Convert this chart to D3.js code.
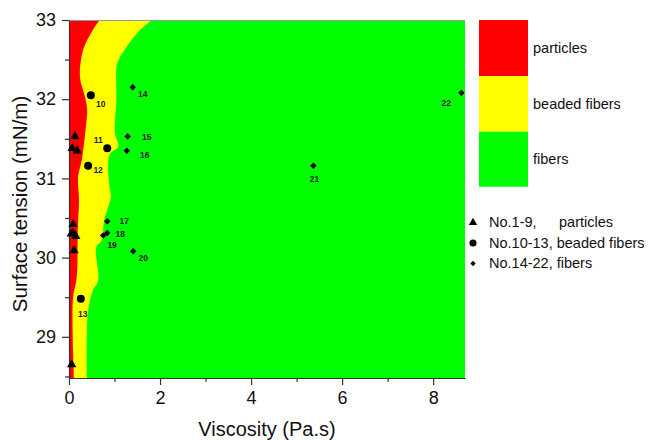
<!DOCTYPE html>
<html>
<meta charset="utf-8">
<style>
  body { margin: 0; background: #fff; }
  text { font-family: Arial, "Liberation Sans", sans-serif; }
</style>
<body>
<div id="chart"></div>
<script src="https://d3js.org/d3.v7.min.js"></script>
<script>
"use strict";

var redEdge = [
  [33, 0.67], [32.81, 0.46], [32.62, 0.31], [32.28, 0.24], [32.03, 0.35],
  [31.86, 0.40], [31.65, 0.37], [31.44, 0.33], [31.23, 0.28], [31.02, 0.20],
  [30.72, 0.22], [30.47, 0.20], [30.30, 0.19], [29.75, 0.17], [29.50, 0.09],
  [29.04, 0.08], [28.48, 0.11]
];
var greenEdge = [
  [33, 1.82], [32.83, 1.49], [32.52, 1.11], [32.43, 1.05], [31.99, 1.04],
  [31.57, 1.01], [31.40, 1.08], [31.31, 0.90], [31.14, 0.86], [30.89, 0.89],
  [30.76, 0.92], [30.59, 0.83], [30.47, 0.77], [30.22, 0.72], [30.13, 0.60],
  [29.71, 0.64], [29.58, 0.52], [29.33, 0.42], [28.95, 0.39], [28.48, 0.39]
];

// Samples No.1-9 (particles)
var triVisc = [0.13, 0.07, 0.18, 0.09, 0.09, 0.15, 0.05, 0.11, 0.06];
var triTension = [31.53, 31.38, 31.35, 30.42, 30.31, 30.27, 30.30, 30.09, 28.65];

// Samples No.10-13 (beaded fibers)
var dotIds = ["10", "11", "12", "13"];
var dotVisc = [0.48, 0.84, 0.42, 0.26];
var dotTension = [32.05, 31.38, 31.16, 29.48];

// Samples No.14-22 (fibers)
var diaIds = ["14", "15", "16", "17", "18", "19", "20", "21", "22"];
var diaVisc = [1.40, 1.29, 1.27, 0.84, 0.84, 0.75, 1.41, 5.37, 8.62];
var diaTension = [32.15, 31.53, 31.35, 30.46, 30.31, 30.28, 30.08, 31.16, 32.08];

var yTicks = [29, 30, 31, 32, 33];
var xTicks = [0, 2, 4, 6, 8];

var regionNames = ["particles", "beaded fibers", "fibers"];
var regionColors = ["#ff0000", "#ffff00", "#00ff00"];
var markerLegend = [
  ["No.1-9,", "particles"],
  ["No.10-13, beaded fibers", ""],
  ["No.14-22, fibers", ""]
];

// label offsets (px) for the sample numbers
var dotLabelOff = [[10, 9], [-9, -8], [10, 4], [2, 15]];
var diaLabelOff = [[10, 7], [19, 1], [18, 4], [17, 0], [13, 1], [9, 10], [10, 7], [1, 13], [-15, 10]];

var W = 649, H = 440;
var svg = d3.select("#chart").append("svg").attr("width", W).attr("height", H);

var pLeft = 69, pRight = 465, pTop = 20, pBottom = 378;
var x = d3.scaleLinear().domain([0, 8.7]).range([pLeft, pRight]);
var y = d3.scaleLinear().domain([28.48, 33]).range([pBottom, pTop]);

// green background, then yellow and red areas from the left edge
svg.append("rect")
  .attr("x", pLeft).attr("y", pTop)
  .attr("width", pRight - pLeft).attr("height", pBottom - pTop)
  .attr("fill", regionColors[2]);

var area = d3.area()
  .y(function (d) { return y(d[0]); })
  .x0(x(0))
  .x1(function (d) { return x(d[1]); })
  .curve(d3.curveCatmullRom);

svg.append("path").attr("d", area(greenEdge)).attr("fill", regionColors[1]);
svg.append("path").attr("d", area(redEdge)).attr("fill", regionColors[0]);

// top border
svg.append("line")
  .attr("x1", pLeft).attr("x2", pRight).attr("y1", pTop + 0.5).attr("y2", pTop + 0.5)
  .attr("stroke", "#999").attr("stroke-width", 1);

// axes
var yAxis = svg.append("g").attr("transform", "translate(" + pLeft + ",0)")
  .call(d3.axisLeft(y).tickValues(yTicks).tickFormat(d3.format("d"))
    .tickSize(7).tickPadding(6).tickSizeOuter(0));
svg.append("g").attr("transform", "translate(" + pLeft + ",0)")
  .call(d3.axisLeft(y).tickValues([28.5, 29.5, 30.5, 31.5, 32.5]).tickSize(4).tickFormat("").tickSizeOuter(0))
  .select(".domain").remove();

var xAxis = svg.append("g").attr("transform", "translate(0," + pBottom + ")")
  .call(d3.axisBottom(x).tickValues(xTicks).tickFormat(d3.format("d"))
    .tickSize(7).tickPadding(6).tickSizeOuter(0));
svg.append("g").attr("transform", "translate(0," + pBottom + ")")
  .call(d3.axisBottom(x).tickValues([1, 3, 5, 7]).tickSize(4).tickFormat("").tickSizeOuter(0))
  .select(".domain").remove();

svg.selectAll(".domain, .tick line").attr("stroke", "#333").attr("stroke-width", 1.2);
yAxis.selectAll("text").style("font-size", "18px").attr("fill", "#111");
xAxis.selectAll("text").style("font-size", "18px").attr("fill", "#111");

svg.append("text")
  .attr("transform", "translate(27,204) rotate(-90)")
  .attr("text-anchor", "middle")
  .style("font-size", "20.5px").attr("fill", "#111")
  .text("Surface tension (mN/m)");

svg.append("text")
  .attr("x", 267).attr("y", 436)
  .attr("text-anchor", "middle")
  .style("font-size", "20px").attr("fill", "#111")
  .text("Viscosity (Pa.s)");

// markers
var tri = d3.symbol().type(d3.symbolTriangle).size(38);
var dia = d3.symbol().type(d3.symbolSquare).size(21);

svg.selectAll(".tri").data(triVisc).enter().append("path")
  .attr("d", tri)
  .attr("transform", function (d, i) { return "translate(" + x(d) + "," + y(triTension[i]) + ")"; })
  .attr("fill", "#000");

svg.selectAll(".dot").data(dotVisc).enter().append("circle")
  .attr("cx", function (d) { return x(d); })
  .attr("cy", function (d, i) { return y(dotTension[i]); })
  .attr("r", 4)
  .attr("fill", "#000");

svg.selectAll(".dia").data(diaVisc).enter().append("path")
  .attr("d", dia)
  .attr("transform", function (d, i) { return "translate(" + x(d) + "," + y(diaTension[i]) + ") rotate(45)"; })
  .attr("fill", "#000");

function numLabels(ids, vis, ten, off) {
  svg.selectAll(null).data(ids).enter().append("text")
    .attr("x", function (d, i) { return x(vis[i]) + off[i][0]; })
    .attr("y", function (d, i) { return y(ten[i]) + off[i][1]; })
    .attr("text-anchor", "middle")
    .attr("dominant-baseline", "central")
    .style("font-size", "8.5px")
    .style("font-weight", "bold")
    .attr("fill", "#222")
    .text(function (d) { return d; });
}
numLabels(dotIds, dotVisc, dotTension, dotLabelOff);
numLabels(diaIds, diaVisc, diaTension, diaLabelOff);

// region legend
var boxH = [56, 55.7, 55];
var by = 20;
regionNames.forEach(function (name, i) {
  svg.append("rect")
    .attr("x", 479).attr("y", by)
    .attr("width", 49).attr("height", boxH[i])
    .attr("fill", regionColors[i]);
  svg.append("text")
    .attr("x", 533).attr("y", by + boxH[i] / 2 + 5)
    .style("font-size", "14.5px").attr("fill", "#111")
    .text(name);
  by += boxH[i];
});

// marker legend
var legSyms = [
  [d3.symbol().type(d3.symbolTriangle).size(30)(), 0],
  [d3.symbol().type(d3.symbolCircle).size(40)(), 0],
  [d3.symbol().type(d3.symbolSquare).size(14)(), 45]
];
markerLegend.forEach(function (row, i) {
  var ly = 227 + i * 20.5;
  svg.append("path")
    .attr("d", legSyms[i][0])
    .attr("transform", "translate(473," + (ly - 4.5) + ") rotate(" + legSyms[i][1] + ")")
    .attr("fill", "#000");
  svg.append("text")
    .attr("x", 489).attr("y", ly)
    .style("font-size", "14.5px").attr("fill", "#111")
    .text(row[0]);
  if (row[1]) {
    svg.append("text")
      .attr("x", 559).attr("y", ly)
      .style("font-size", "14.5px").attr("fill", "#111")
      .text(row[1]);
  }
});
</script>
</body>
</html>
